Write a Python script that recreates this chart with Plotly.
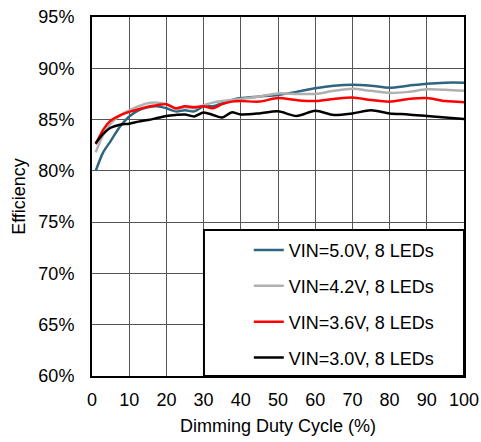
import plotly.graph_objects as go

duty = [1, 3, 5, 7.5, 10, 12.5, 15, 17.5, 20, 22.5, 25, 27.5, 30, 32.5, 35, 37.5, 40, 45, 50, 55, 60, 65, 70, 75, 80, 85, 90, 95, 100]

eff_50 = [80.0, 81.8, 82.9, 84.3, 85.3, 85.9, 86.2, 86.3, 86.1, 85.8, 85.9, 85.8, 86.3, 86.3, 86.6, 86.9, 87.1, 87.25, 87.4, 87.7, 88.05, 88.3, 88.4, 88.3, 88.1, 88.3, 88.5, 88.6, 88.6]
eff_42 = [81.8, 83.5, 84.6, 85.4, 85.9, 86.3, 86.6, 86.65, 86.5, 86.0, 86.2, 86.1, 86.4, 86.65, 86.8, 86.9, 87.0, 87.25, 87.55, 87.5, 87.5, 87.8, 88.0, 87.8, 87.6, 87.7, 87.95, 87.9, 87.8]
eff_36 = [82.6, 84.0, 84.9, 85.4, 85.75, 86.0, 86.25, 86.4, 86.5, 86.1, 86.3, 86.2, 86.3, 86.1, 86.5, 86.75, 86.8, 86.75, 87.1, 86.9, 86.8, 87.0, 87.15, 86.9, 86.75, 87.0, 87.1, 86.8, 86.7]
eff_30 = [82.7, 83.6, 84.2, 84.5, 84.6, 84.8, 84.95, 85.15, 85.35, 85.45, 85.5, 85.3, 85.7, 85.45, 85.2, 85.7, 85.5, 85.6, 85.8, 85.35, 85.85, 85.45, 85.6, 85.9, 85.6, 85.5, 85.35, 85.2, 85.05]

series = [
    ("VIN=5.0V, 8 LEDs", eff_50, "#2F6580"),
    ("VIN=4.2V, 8 LEDs", eff_42, "#B0B0B0"),
    ("VIN=3.6V, 8 LEDs", eff_36, "#FF0000"),
    ("VIN=3.0V, 8 LEDs", eff_30, "#000000"),
]

fig = go.Figure()
for i, (name, vals, color) in enumerate(series):
    fig.add_trace(go.Scatter(
        x=duty, y=vals, name=name, mode="lines",
        line=dict(color=color, width=2.5, shape="spline", smoothing=0.8),
        legendgroup=f"g{i}",
    ))

font = dict(family="Liberation Sans, Arial, sans-serif", size=18, color="#000")

# legend frame (white box with black border, lower-right of the plot)
fig.add_shape(type="rect", xref="paper", yref="paper",
              x0=0.301, x1=1.0, y0=0.0, y1=0.407,
              fillcolor="white", line=dict(color="black", width=2), layer="above")

fig.update_layout(
    template="none",
    width=481, height=442,
    margin=dict(l=92, r=17, t=17, b=66),
    paper_bgcolor="white", plot_bgcolor="white",
    font=font,
    showlegend=True,
    legend=dict(
        x=0.4215, y=0.402, xanchor="left", yanchor="top",
        bgcolor="rgba(0,0,0,0)", borderwidth=0,
        tracegroupgap=9.5, font=font,
    ),
    xaxis=dict(
        range=[0, 100], dtick=10, tick0=0,
        showgrid=True, gridcolor="#555555", gridwidth=1,
        showline=True, linecolor="black", linewidth=2, mirror=True,
        ticks="", zeroline=False, automargin=False,
        ticklabelstandoff=6,
        title=dict(text="Dimming Duty Cycle (%)", font=font, standoff=11),
    ),
    yaxis=dict(
        range=[60, 95], dtick=5, tick0=60,
        ticksuffix="%",
        showgrid=True, gridcolor="#555555", gridwidth=1,
        showline=True, linecolor="black", linewidth=2, mirror=True,
        ticks="", zeroline=False, automargin=False,
        ticklabelstandoff=12,
        title=dict(text="Efficiency", font=font, standoff=8),
    ),
)

fig.write_html("out.html", config={"displayModeBar": False},
               post_script="document.body.style.margin='0';")
